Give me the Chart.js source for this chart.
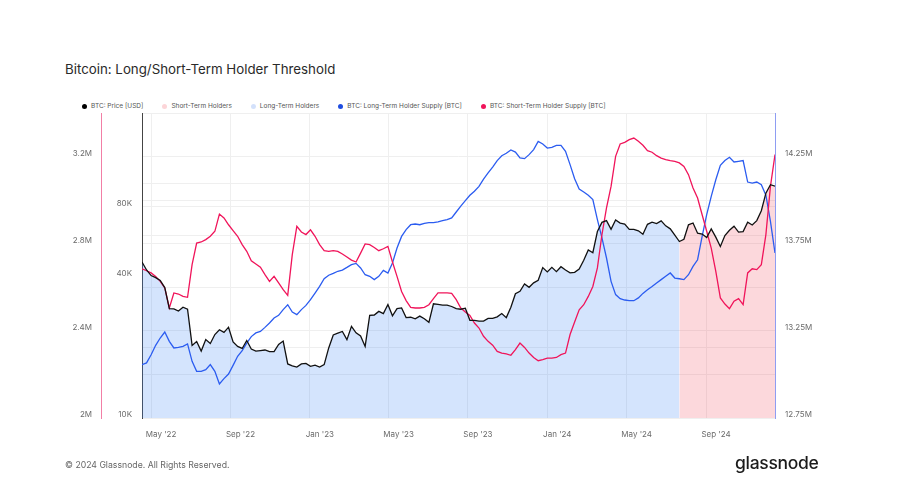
<!DOCTYPE html>
<html>
<head>
<meta charset="utf-8">
<script src="https://cdn.jsdelivr.net/npm/chart.js@4.4.1/dist/chart.umd.min.js"></script>
<style>
  html, body { margin: 0; padding: 0; background: #fff; }
  body { width: 907px; height: 488px; position: relative; overflow: hidden; font-family: Inter, 'Noto Sans', sans-serif; }
  #title { position: absolute; left: 65px; top: 61px; font-size: 13.3px; color: #2a2a2a; white-space: nowrap; }
  #legend { position: absolute; left: 82px; top: 102px; display: flex; gap: 19px; font-size: 6.5px; color: #555; white-space: nowrap; }
  #legend .item { display: flex; align-items: center; }
  #legend .dot { width: 5px; height: 5px; border-radius: 50%; margin-right: 4px; }
  #chart { position: absolute; left: 0; top: 0; }
  #copy { position: absolute; left: 65px; top: 460px; font-size: 8.7px; color: #666; }
  #logo { position: absolute; left: 735px; top: 452px; font-size: 17.5px; color: #1b1b1b; font-weight: 500; letter-spacing: -0.3px; }
</style>
</head>
<body>
<div id="title">Bitcoin: Long/Short-Term Holder Threshold</div>
<div id="legend"></div>
<canvas id="chart" width="907" height="488"></canvas>
<div id="copy">© 2024 Glassnode. All Rights Reserved.</div>
<div id="logo">glassnode</div>

<script>
// weekly samples starting on this date
const START_DATE = '2022-04-01';
const WEEK_DAYS = 7;
// from this week on the short-term holders side of the threshold is shaded
const STH_FROM = '2024-07-05';

// BTC price [USD], weekly
const price = [46300, 42800, 40500, 39700, 38600, 36000, 29300, 29200, 28600, 29700,
  29100, 20400, 21200, 19300, 21600, 20800, 22700, 23800, 23200, 24400,
  21100, 20200, 19800, 21400, 19700, 19300, 19400, 19500, 19200, 19200,
  20600, 21300, 17000, 16700, 16500, 17000, 17100, 16600, 16800, 16500,
  16900, 19900, 22600, 23000, 23400, 21600, 24600, 23100, 22400, 20200,
  27400, 27500, 28500, 27900, 30500, 27300, 29300, 29500, 26800, 26900,
  26500, 27200, 26500, 25600, 30700, 30500, 30300, 30300, 29900, 29300,
  29100, 29400, 26100, 26100, 25900, 25900, 26600, 26600, 27000, 27900,
  26800, 29700, 33900, 34700, 37300, 36100, 37700, 38700, 43800, 42000,
  43900, 42100, 44200, 42800, 41600, 41800, 43200, 47100, 52100, 50700,
  62400, 68300, 69500, 63800, 69900, 67800, 67100, 63800, 63800, 62900,
  60800, 67000, 68500, 67500, 69300, 66000, 64100, 60300, 56600, 57900,
  66700, 67900, 61400, 60900, 58900, 64100, 59100, 53900, 60000, 63200,
  65800, 62100, 62400, 68400, 66600, 69500, 76600, 91000, 98900, 97400];

// Short-term holder supply [million BTC]
const sthSupply = [2.685, 2.676, 2.666, 2.650, 2.627, 2.597, 2.505, 2.574, 2.569, 2.558,
  2.554, 2.704, 2.803, 2.808, 2.819, 2.834, 2.857, 2.936, 2.918, 2.887,
  2.860, 2.834, 2.796, 2.765, 2.722, 2.707, 2.692, 2.658, 2.627, 2.650,
  2.620, 2.589, 2.563, 2.750, 2.880, 2.854, 2.842, 2.864, 2.834, 2.796,
  2.768, 2.765, 2.768, 2.765, 2.753, 2.739, 2.725, 2.716, 2.757, 2.799,
  2.796, 2.783, 2.768, 2.777, 2.788, 2.716, 2.650, 2.581, 2.539, 2.508,
  2.505, 2.505, 2.508, 2.520, 2.548, 2.574, 2.574, 2.574, 2.572, 2.543,
  2.505, 2.487, 2.471, 2.436, 2.413, 2.375, 2.352, 2.334, 2.306, 2.298,
  2.294, 2.288, 2.314, 2.344, 2.324, 2.298, 2.278, 2.263, 2.268, 2.275,
  2.275, 2.278, 2.291, 2.298, 2.383, 2.441, 2.497, 2.520, 2.558, 2.604,
  2.689, 2.842, 2.964, 3.063, 3.201, 3.258, 3.265, 3.278, 3.285, 3.270,
  3.252, 3.227, 3.220, 3.204, 3.193, 3.186, 3.181, 3.178, 3.171, 3.155,
  3.117, 3.056, 3.010, 2.933, 2.857, 2.780, 2.673, 2.551, 2.523, 2.502,
  2.536, 2.548, 2.520, 2.666, 2.685, 2.681, 2.704, 2.842, 3.063, 3.209];

// Long-term holder supply [million BTC]
const lthSupply = [13.056, 13.066, 13.113, 13.167, 13.209, 13.243, 13.190, 13.152, 13.155, 13.161,
  13.175, 13.075, 13.018, 13.018, 13.027, 13.056, 13.018, 12.945, 12.976, 13.002,
  13.052, 13.104, 13.136, 13.180, 13.217, 13.238, 13.247, 13.270, 13.295, 13.324,
  13.339, 13.372, 13.400, 13.358, 13.343, 13.372, 13.396, 13.429, 13.467, 13.505,
  13.549, 13.569, 13.580, 13.592, 13.599, 13.614, 13.630, 13.637, 13.611, 13.572,
  13.563, 13.544, 13.563, 13.597, 13.582, 13.639, 13.725, 13.792, 13.831, 13.859,
  13.863, 13.859, 13.867, 13.871, 13.871, 13.875, 13.882, 13.888, 13.898, 13.932,
  13.966, 13.997, 14.028, 14.051, 14.079, 14.121, 14.156, 14.190, 14.227, 14.255,
  14.269, 14.288, 14.276, 14.242, 14.238, 14.261, 14.290, 14.337, 14.322, 14.299,
  14.303, 14.314, 14.314, 14.280, 14.204, 14.123, 14.064, 14.047, 14.028, 14.003,
  13.888, 13.783, 13.668, 13.534, 13.458, 13.435, 13.427, 13.423, 13.423, 13.439,
  13.465, 13.486, 13.505, 13.525, 13.544, 13.563, 13.582, 13.553, 13.549, 13.544,
  13.572, 13.620, 13.658, 13.792, 13.917, 14.022, 14.117, 14.200, 14.227, 14.246,
  14.219, 14.223, 14.227, 14.104, 14.098, 14.104, 14.089, 14.028, 13.878, 13.697];

// axis ticks
const xTickDates = ['2022-04-15', '2022-08-15', '2022-12-15', '2023-04-15', '2023-08-15', '2023-12-15', '2024-04-15', '2024-08-15'];
const xTickLabels = ["May '22", "Sep '22", "Jan '23", "May '23", "Sep '23", "Jan '24", "May '24", "Sep '24"];
const priceTicks = [10000, 20000, 60000, 80000, 100000, 200000];
const priceTickLabels = { 10000: '10K', 40000: '40K', 80000: '80K' };
const sthTicks = [2, 2.4, 2.8, 3.2];
const lthTicks = [12.75, 13, 13.25, 13.5, 13.75, 14, 14.25, 14.5];
const lthTickLabels = [12.75, 13.25, 13.75, 14.25];

const DAY = 86400000;
const dayOf = d => Math.round((Date.parse(d) - Date.parse(START_DATE)) / DAY);
const days = price.map((_, i) => i * WEEK_DAYS);
const sthFromDay = dayOf(STH_FROM);
const xTickDays = xTickDates.map(dayOf);

const pts = arr => arr.map((v, i) => ({ x: days[i], y: v }));
const lthZone = price.map((v, i) => ({ x: days[i], y: days[i] <= sthFromDay ? v : null }));
const sthZone = price.map((v, i) => ({ x: days[i], y: days[i] >= sthFromDay ? v : null }));

const tickFont = { family: 'Inter', size: 8 };
const tickColor = '#6b6b6b';
const gridColor = '#efefef';

const datasets = [
  { label: 'BTC: Price [USD]', data: pts(price), yAxisID: 'price', borderColor: '#111', borderWidth: 1.3, order: 0, dot: '#000' },
  { label: 'Short-Term Holders', data: sthZone, yAxisID: 'price', borderWidth: 0, backgroundColor: 'rgba(240,60,80,0.2)', fill: 'start', order: 4, dot: '#fcd5d8' },
  { label: 'Long-Term Holders', data: lthZone, yAxisID: 'price', borderWidth: 0, backgroundColor: 'rgba(59,130,246,0.22)', fill: 'start', order: 5, dot: '#d3e1fb' },
  { label: 'BTC: Long-Term Holder Supply [BTC]', data: pts(lthSupply), yAxisID: 'lth', borderColor: '#2b5cf0', borderWidth: 1.3, order: 2, dot: '#1f4de0' },
  { label: 'BTC: Short-Term Holder Supply [BTC]', data: pts(sthSupply), yAxisID: 'sth', borderColor: '#f0145a', borderWidth: 1.3, order: 1, dot: '#f0145a' }
];

// legend
const legend = document.getElementById('legend');
datasets.forEach(ds => {
  const item = document.createElement('div');
  item.className = 'item';
  item.innerHTML = `<span class="dot" style="background:${ds.dot}"></span><span>${ds.label}</span>`;
  legend.appendChild(item);
});

const noPad = s => { s.paddingTop = 0; s.paddingBottom = 0; s.paddingLeft = 0; s.paddingRight = 0; };

new Chart(document.getElementById('chart'), {
  type: 'line',
  data: { datasets },
  options: {
    responsive: false,
    animation: false,
    devicePixelRatio: 1,
    layout: { padding: { left: 62, right: 52, top: 113, bottom: 40 } },
    elements: { point: { radius: 0 }, line: { tension: 0 } },
    plugins: { legend: { display: false }, tooltip: { enabled: false } },
    scales: {
      x: {
        type: 'linear',
        min: 0,
        max: days[days.length - 1],
        afterBuildTicks: s => { s.ticks = xTickDays.map(v => ({ value: v })); },
        afterFit: s => { s.height = 30; noPad(s); },
        ticks: {
          callback: (v, i) => xTickLabels[i],
          autoSkip: false, maxRotation: 0, labelOffset: 10, padding: 12,
          color: tickColor, font: tickFont
        },
        grid: { color: gridColor, drawTicks: false },
        border: { display: false }
      },
      sth: {
        type: 'linear', position: 'left', weight: 1, min: 2, max: 3.4,
        afterBuildTicks: s => { s.ticks = sthTicks.map(v => ({ value: v })); },
        afterFit: s => { s.width = 39; noPad(s); },
        ticks: { callback: v => v + 'M', padding: 9, labelOffset: -3, color: tickColor, font: tickFont },
        grid: { display: false, drawTicks: false },
        border: { color: '#f27fa6', width: 1 }
      },
      price: {
        type: 'logarithmic', position: 'left', weight: 0, min: 10000, max: 200000,
        afterBuildTicks: s => { s.ticks = priceTicks.concat([40000]).map(v => ({ value: v })); },
        afterFit: s => { s.width = 41; noPad(s); },
        ticks: { callback: v => priceTickLabels[v] || '', padding: 10, labelOffset: -3, color: tickColor, font: tickFont },
        grid: { color: ctx => priceTicks.includes(ctx.tick && ctx.tick.value) ? gridColor : 'rgba(0,0,0,0)', drawTicks: false },
        border: { color: '#444', width: 1 }
      },
      lth: {
        type: 'linear', position: 'right', min: 12.75, max: 14.5,
        afterBuildTicks: s => { s.ticks = lthTicks.map(v => ({ value: v })); },
        afterFit: s => { s.width = 80; noPad(s); },
        ticks: { callback: v => lthTickLabels.includes(v) ? v + 'M' : '', padding: 10, labelOffset: -3, color: tickColor, font: tickFont },
        grid: { color: gridColor, drawTicks: false },
        border: { color: '#8e9df2', width: 1 }
      }
    }
  }
});
</script>
</body>
</html>
